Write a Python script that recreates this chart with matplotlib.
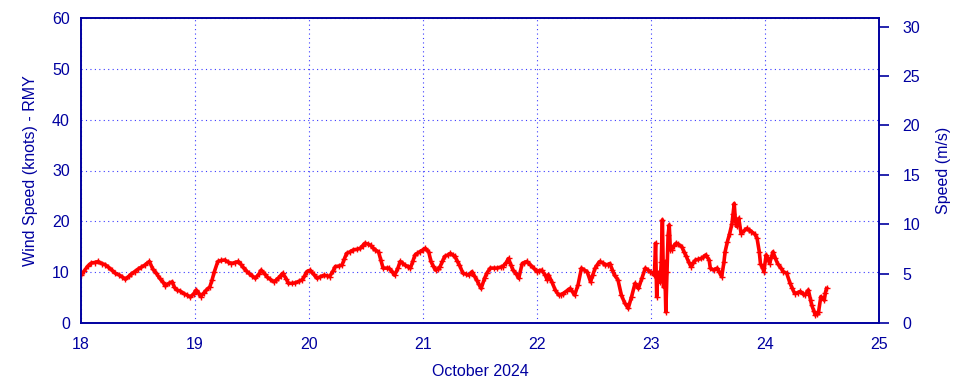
import matplotlib
matplotlib.use("Agg")
import matplotlib.pyplot as plt

# Wind speed (knots), time in days of October 2024
days = [
    18.00, 18.03, 18.06, 18.09, 18.12, 18.15, 18.18, 18.21, 18.24, 18.27,
    18.30, 18.33, 18.36, 18.39, 18.42, 18.44, 18.47, 18.50, 18.53, 18.56,
    18.60, 18.63, 18.66, 18.69, 18.72, 18.74, 18.77, 18.80, 18.82, 18.84,
    18.87, 18.90, 18.93, 18.96, 18.99, 19.01, 19.03, 19.05, 19.08, 19.10,
    19.13, 19.15, 19.17, 19.20, 19.23, 19.26, 19.29, 19.32, 19.35, 19.38,
    19.40, 19.42, 19.45, 19.47, 19.50, 19.53, 19.56, 19.58, 19.61, 19.63,
    19.66, 19.69, 19.71, 19.73, 19.75, 19.77, 19.80, 19.82, 19.85, 19.88,
    19.91, 19.94, 19.96, 19.98, 20.01, 20.04, 20.07, 20.10, 20.13, 20.16,
    20.18, 20.21, 20.23, 20.26, 20.29, 20.31, 20.33, 20.36, 20.39, 20.42,
    20.45, 20.47, 20.49, 20.52, 20.54, 20.56, 20.58, 20.61, 20.63, 20.65,
    20.68, 20.70, 20.73, 20.75, 20.78, 20.80, 20.82, 20.84, 20.87, 20.89,
    20.91, 20.93, 20.95, 20.97, 21.00, 21.02, 21.05, 21.07, 21.09, 21.11,
    21.13, 21.15, 21.17, 21.19, 21.22, 21.24, 21.26, 21.28, 21.30, 21.32,
    21.35, 21.38, 21.40, 21.43, 21.45, 21.47, 21.49, 21.51, 21.54, 21.56,
    21.59, 21.62, 21.65, 21.68, 21.70, 21.73, 21.75, 21.77, 21.79, 21.82,
    21.84, 21.87, 21.89, 21.91, 21.94, 21.97, 22.00, 22.02, 22.04, 22.07,
    22.09, 22.10, 22.13, 22.16, 22.19, 22.21, 22.23, 22.26, 22.29, 22.31,
    22.33, 22.36, 22.39, 22.41, 22.44, 22.47, 22.49, 22.51, 22.53, 22.55,
    22.58, 22.60, 22.62, 22.64, 22.66, 22.68, 22.71, 22.74, 22.77, 22.80,
    22.83, 22.86, 22.89, 22.92, 22.95, 22.97, 22.99, 23.02, 23.03, 23.04,
    23.05, 23.06, 23.07, 23.08, 23.09, 23.10, 23.11, 23.12, 23.13, 23.14,
    23.15, 23.16, 23.17, 23.18, 23.20, 23.22, 23.24, 23.27, 23.29, 23.31,
    23.33, 23.35, 23.37, 23.39, 23.41, 23.44, 23.46, 23.48, 23.51, 23.52,
    23.55, 23.58, 23.60, 23.62, 23.64, 23.65, 23.67, 23.69, 23.71, 23.72,
    23.73, 23.74, 23.75, 23.77, 23.79, 23.82, 23.84, 23.86, 23.88, 23.91,
    23.93, 23.95, 23.96, 23.98, 23.99, 24.01, 24.03, 24.04, 24.07, 24.09,
    24.11, 24.14, 24.16, 24.19, 24.22, 24.24, 24.26, 24.29, 24.31, 24.33,
    24.35, 24.38, 24.40, 24.41, 24.43, 24.44, 24.46, 24.47, 24.49, 24.52,
    24.53, 24.54,
]
knots = [
    9.4, 10.3, 11.2, 11.8, 11.9, 12.1, 11.7, 11.5, 11.0, 10.4,
    9.8, 9.5, 9.1, 8.6, 9.2, 9.6, 10.1, 10.6, 11.0, 11.4,
    12.1, 10.6, 9.8, 8.8, 8.0, 7.3, 7.8, 8.1, 7.0, 6.5,
    6.3, 5.8, 5.5, 5.1, 5.8, 6.5, 6.0, 5.2, 6.0, 6.5,
    7.1, 8.5, 10.1, 12.1, 12.3, 12.4, 12.0, 11.7, 11.9, 12.1,
    11.6, 11.0, 10.3, 9.8, 9.3, 8.8, 9.6, 10.4, 9.7, 9.1,
    8.6, 8.1, 8.4, 8.8, 9.3, 9.8, 8.7, 7.8, 7.8, 7.9,
    8.2, 8.5, 9.2, 10.1, 10.4, 9.6, 8.8, 9.1, 9.4, 9.3,
    9.1, 10.2, 11.1, 11.2, 11.4, 12.6, 13.7, 14.0, 14.4, 14.5,
    14.7, 15.2, 15.7, 15.5, 15.3, 14.8, 14.4, 14.0, 12.4, 10.8,
    10.8, 10.8, 10.1, 9.4, 10.8, 12.1, 11.8, 11.4, 11.1, 10.8,
    12.1, 13.4, 13.7, 14.0, 14.4, 14.7, 14.0, 12.1, 11.2, 10.4,
    10.7, 11.1, 12.1, 13.1, 13.4, 13.7, 13.4, 13.1, 12.2, 11.4,
    9.8, 9.6, 9.4, 10.1, 9.3, 8.5, 7.6, 6.8, 8.8, 9.8,
    10.8, 10.8, 10.8, 11.0, 11.1, 11.9, 12.7, 11.5, 10.4, 9.6,
    8.8, 11.7, 11.9, 12.1, 11.5, 10.8, 10.1, 10.3, 10.4, 9.5,
    8.5, 9.5, 8.1, 6.5, 5.5, 5.6, 5.8, 6.3, 6.8, 6.2,
    5.5, 7.5, 10.8, 10.5, 10.1, 8.1, 9.5, 10.8, 11.5, 12.1,
    11.8, 11.4, 11.5, 11.7, 10.5, 9.4, 8.5, 5.5, 3.9, 2.9,
    5.2, 7.8, 6.8, 8.8, 10.8, 10.5, 10.1, 9.8, 9.4, 15.7,
    5.2, 9.8, 9.1, 8.0, 12.0, 20.3, 7.1, 12.0, 2.2, 10.0,
    17.3, 19.3, 14.4, 14.4, 15.2, 15.7, 15.5, 15.0, 14.0, 13.1,
    12.0, 11.1, 11.8, 12.4, 12.5, 12.7, 13.0, 13.4, 12.4, 10.8,
    10.4, 10.8, 10.0, 9.1, 12.0, 14.0, 16.0, 17.6, 19.5, 21.5,
    23.5, 20.3, 19.0, 20.6, 17.6, 18.2, 18.6, 18.3, 18.0, 17.5,
    16.7, 14.0, 11.7, 10.8, 10.1, 13.4, 12.5, 11.7, 14.0, 12.8,
    11.7, 10.8, 10.1, 9.8, 7.8, 6.8, 5.8, 6.0, 6.2, 5.8,
    5.5, 6.5, 4.5, 3.5, 2.3, 1.6, 1.8, 2.2, 5.2, 4.5,
    6.0, 6.8,
]
x_ticks = [18, 19, 20, 21, 22, 23, 24, 25]
KNOTS_PER_MS = 1.94384

navy = "#0000a0"
grid_blue = "#3a3aff"
plt.rcParams["font.family"] = ["Liberation Sans", "DejaVu Sans"]
plt.rcParams["font.size"] = 11.5

fig = plt.figure(figsize=(9.6, 3.84), dpi=100)
ax = fig.add_axes([81 / 960, 61 / 384, 798 / 960, 305 / 384])

ax.plot(days, knots, color="#d8d8d8", lw=0.8, zorder=2)
ax.plot(days, knots, color="#ff0000", lw=2.6, zorder=3)
ax.plot(days, knots, "+", color="#ff0000", ms=5, mew=1, zorder=4)

ax.set_xlim(18, 25)
ax.set_ylim(0, 60)
ax.set_xticks(x_ticks)
ax.set_yticks(range(0, 61, 10))
ax.grid(True, color=grid_blue, linestyle=(0, (1, 3)), lw=0.8)
ax.tick_params(axis="both", length=0, colors=navy, labelsize=11.5)
ax.tick_params(axis="y", pad=8)
ax.tick_params(axis="x", pad=10)
for sp in ax.spines.values():
    sp.set_color(navy)
    sp.set_linewidth(1.2)

ax.set_ylabel("Wind Speed (knots) - RMY", color=navy, fontsize=11.5, labelpad=10)
ax.set_xlabel("October 2024", color=navy, fontsize=11.5, labelpad=9)

# right axis in m/s
ax2 = ax.twinx()
ax2.set_ylim(0, 60 / KNOTS_PER_MS)
ax2.set_yticks(range(0, 31, 5))
ax2.tick_params(axis="y", direction="out", length=7, width=1.2, colors=navy,
                labelsize=11.5, pad=10)
for sp in ax2.spines.values():
    sp.set_color(navy)
    sp.set_linewidth(1.2)
ax2.set_ylabel("Speed (m/s)", color=navy, fontsize=11.5, labelpad=11)

fig.savefig("out.png", dpi=100)
